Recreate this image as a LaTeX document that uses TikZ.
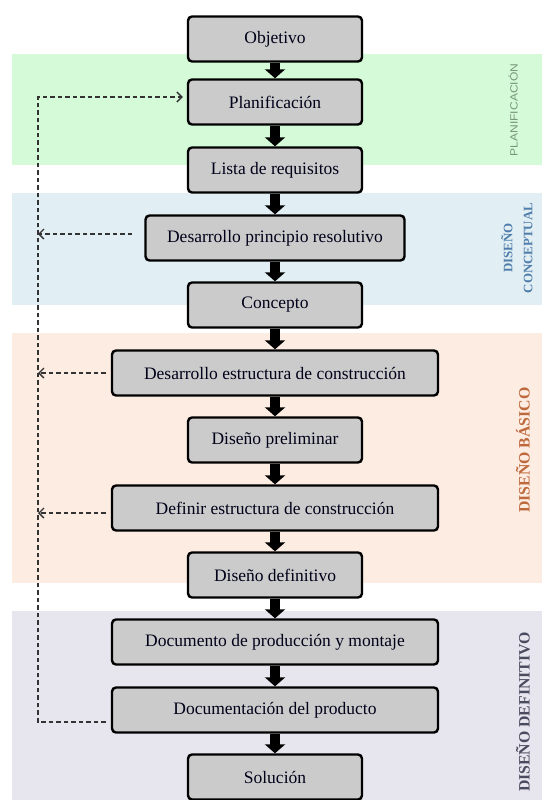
\documentclass[tikz,border=0pt]{standalone}
\usepackage{fontspec}
\setmainfont{Liberation Serif}
\setsansfont{Liberation Sans}
\usepackage{tikz}
\usetikzlibrary{arrows.meta,positioning}
\definecolor{boxgray}{RGB}{203,203,203}
\definecolor{bandgreen}{RGB}{212,250,216}
\definecolor{bandblue}{RGB}{225,238,244}
\definecolor{bandorange}{RGB}{253,236,226}
\definecolor{bandgray}{RGB}{231,229,237}
\definecolor{txtgreen}{RGB}{120,150,120}
\definecolor{txtblue}{RGB}{80,125,170}
\definecolor{txtorange}{RGB}{190,105,60}
\definecolor{txtgray}{RGB}{75,75,95}
\tikzset{%
	box/.style      = {draw, line width=2.4pt, rectangle, rounded corners=4pt,
		fill=boxgray, minimum height=45pt, text=black!90!blue,
		font=\fontsize{17.5}{20}\selectfont},
	short/.style    = {box, minimum width=174pt},
	mid/.style      = {box, minimum width=259pt},
	long/.style     = {box, minimum width=326pt},
	flow/.style     = {line width=10pt, -{Triangle[length=9pt,width=20pt]}}, % main flow
	feedback/.style = {draw=black!80, line width=1.2pt, dash pattern=on 4.5pt off 3pt,
		-{Straight Barb[length=5pt,width=10pt,line width=1.4pt]}}, % return path
	phase/.style    = {rotate=90, align=center, font=\bfseries\fontsize{15.8}{18}\selectfont}
}
\begin{document}
\begin{tikzpicture}[x=1pt,y=-1pt]
			\useasboundingbox (0,0) rectangle (542,800);
			% phases
			\fill[bandgreen]  (12,54)  rectangle (542,165);
			\fill[bandblue]   (12,193) rectangle (542,305);
			\fill[bandorange] (12,333) rectangle (542,583);
			\fill[bandgray]   (12,611) rectangle (542,800);
			\node[phase, text=txtgreen, font=\sffamily\fontsize{10.5}{12}\selectfont] (ph1) at (513,110) {\scalebox{1.15}[1]{PLANIFICACIÓN}};
			\node[phase, text=txtblue, font=\bfseries\fontsize{12.9}{20}\selectfont] (ph2) at (517,248) {DISEÑO\\CONCEPTUAL};
			\node[phase, text=txtorange] (ph3) at (523,450) {DISEÑO BÁSICO};
			\node[phase, text=txtgray] (ph4) at (523,712) {DISEÑO DEFINITIVO};

			\node[short] (obj)  at (275,39)  {Objetivo};
			\node[short] (plan) at (275,102) {Planificación};
			\node[short] (req)  at (275,170) {Lista de requisitos};
			\node[mid]   (res)  at (275,238) {Desarrollo principio resolutivo};
			\node[short] (con)  at (275,305) {Concepto};
			\node[long]  (dec)  at (275,373) {Desarrollo estructura de construcción};
			\node[short] (pre)  at (275,440) {Diseño preliminar};
			\node[long]  (def)  at (275,508) {Definir estructura de construcción};
			\node[short] (dfn)  at (275,575) {Diseño definitivo};
			\node[long]  (prod) at (275,642) {Documento de producción y montaje};
			\node[long]  (doc)  at (275,710) {Documentación del producto};
			\node[short] (sol)  at (275,777) {Solución};

			\draw[flow] (obj) -- (plan);
			\draw[flow] (plan) -- (req);
			\draw[flow] (req) -- (res);
			\draw[flow] (res) -- (con);
			\draw[flow] (con) -- (dec);
			\draw[flow] (dec) -- (pre);
			\draw[flow] (pre) -- (def);
			\draw[flow] (def) -- (dfn);
			\draw[flow] (dfn) -- (prod);
			\draw[flow] (prod) -- (doc);
			\draw[flow] (doc) -- (sol);

			\coordinate (top) at (38,97);
			\coordinate (bot) at (38,722);
			\draw[feedback, shorten <=5pt, shorten >=4pt] (doc.west |- bot) -- (bot) -- (top) -- (top -| plan.west);
			\draw[feedback, shorten <=12pt] ([yshift=4pt]res.west) -- ([yshift=4pt]res.west -| top);
			\draw[feedback, shorten <=5pt] (dec.west) -- (dec.west -| top);
			\draw[feedback, shorten <=5pt] ([yshift=-5pt]def.west) -- ([yshift=-5pt]def.west -| top);
		\end{tikzpicture}
\end{document}
